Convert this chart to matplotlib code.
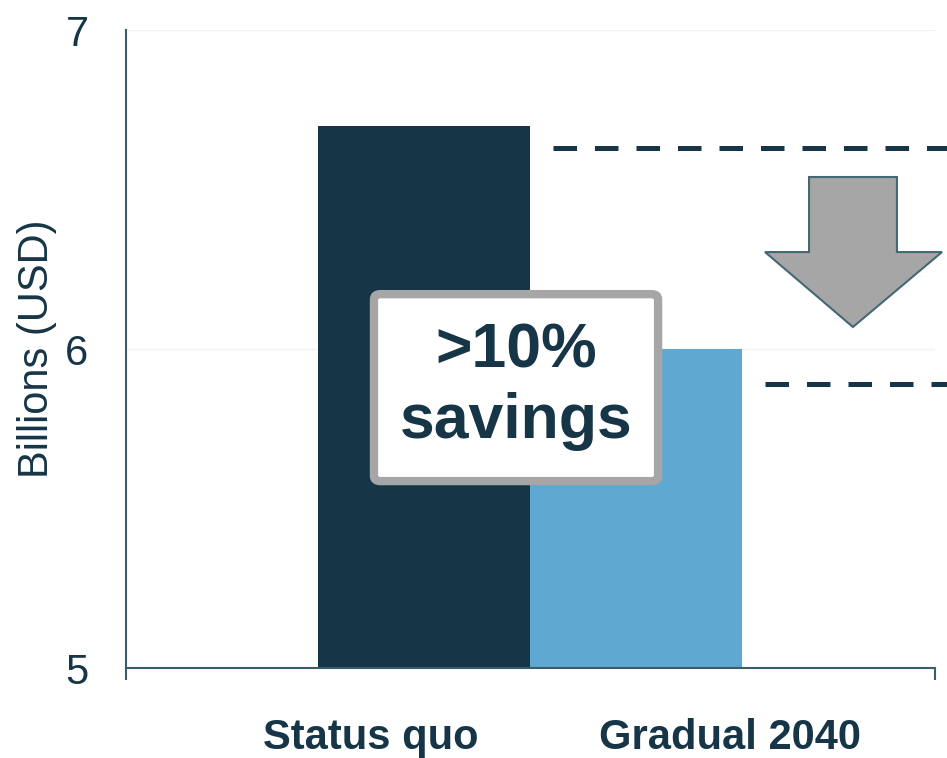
import matplotlib.pyplot as plt
from matplotlib.patches import Polygon, FancyBboxPatch
import matplotlib.transforms as mtransforms

# data
categories = ["Status quo", "Gradual 2040"]
values = [6.70, 6.00]
bar_colors = ["#163547", "#5fa8d2"]
dash_levels = [6.63, 5.89]
yticks = [5, 6, 7]

dark = "#163547"
spine_col = "#3c5b6b"

plt.rcParams['font.family'] = ['Liberation Sans', 'DejaVu Sans']

fig = plt.figure(figsize=(9.47, 7.58), dpi=100)
ax = fig.add_axes([0.1331, 0.1187, 0.8542, 0.8417])

# bars (offset positions as in the original layout)
xpos = [0.237, 0.761]
ax.bar(xpos, values, width=0.524, color=bar_colors, zorder=2)

ax.set_xlim(-0.5, 1.5)
ax.set_ylim(5, 7)
ax.set_yticks(yticks)
ax.set_yticklabels([str(t) for t in yticks], fontsize=30, color=dark)
ax.tick_params(axis='y', length=0, pad=27)
ax.set_ylabel("Billions (USD)", fontsize=30, color=dark, labelpad=6)

ax.set_xticks([-0.5, 1.5])
ax.set_xticklabels(["", ""])
ax.tick_params(axis='x', length=8.5, width=1.5, color=spine_col, direction='out')

for s in ["top", "right"]:
    ax.spines[s].set_visible(False)
for s in ["left", "bottom"]:
    ax.spines[s].set_color(spine_col)
    ax.spines[s].set_linewidth(1.5)

ax.yaxis.grid(True, color="#f2f2f2", lw=1, zorder=0)
ax.set_axisbelow(True)

# category labels under the axis
lab_x = [0.302, 0.746]
for lx, c in zip(lab_x, categories):
    ax.text(lx, -0.11, c, transform=ax.transAxes, ha='center', va='center',
            fontsize=30, fontweight='bold', color=dark)

# dashed reference lines
trans = mtransforms.blended_transform_factory(ax.transAxes, ax.transData)
ax.plot([0.528, 1.02], [dash_levels[0]] * 2, transform=trans, color=dark,
        lw=3.6, ls=(0, (4.7, 3.6)), clip_on=False, zorder=3)
ax.plot([0.790, 1.02], [dash_levels[1]] * 2, transform=trans, color=dark,
        lw=3.6, ls=(0, (4.7, 3.6)), clip_on=False, zorder=3)

# down arrow
arrow_pts = [(0.8443, 0.7696), (0.9530, 0.7696), (0.9530, 0.6520),
             (1.0087, 0.6520), (0.8986, 0.5345), (0.7899, 0.6520),
             (0.8443, 0.6520)]
ax.add_patch(Polygon(arrow_pts, closed=True, transform=ax.transAxes,
                     facecolor="#a6a6a6", edgecolor="#446874", lw=1.5,
                     clip_on=False, zorder=4))

# savings box
box = FancyBboxPatch((0.3065, 0.2930), 0.3512, 0.2930,
                     boxstyle="round,pad=0,rounding_size=0.008",
                     transform=ax.transAxes, facecolor="white",
                     edgecolor="#a6a6a6", lw=6, zorder=5)
ax.add_patch(box)
ax.text(0.482, 0.442, ">10%\nsavings", transform=ax.transAxes,
        ha='center', va='center', fontsize=45, fontweight='bold',
        color=dark, linespacing=1.25, zorder=6)

fig.savefig("out.png", dpi=100)
